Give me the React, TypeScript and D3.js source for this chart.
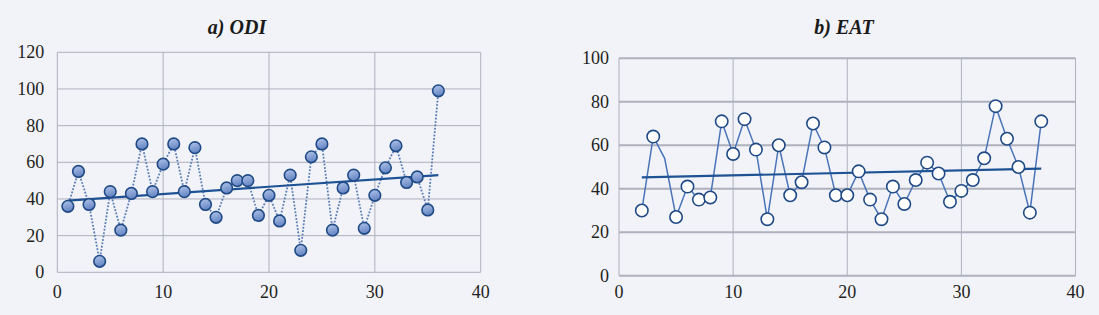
import React from "react";
import * as d3 from "d3";

const odiX = d3.range(1, 37);
const odiValues = [36, 55, 37, 6, 44, 23, 43, 70, 44, 59, 70, 44, 68, 37, 30, 46, 50, 50, 31, 42, 28, 53, 12, 63, 70, 23, 46, 53, 24, 42, 57, 69, 49, 52, 34, 99];
const eatX = d3.range(2, 38);
const eatValues = [30, 64, 54, 27, 41, 35, 36, 71, 56, 72, 58, 26, 60, 37, 43, 70, 59, 37, 37, 48, 35, 26, 41, 33, 44, 52, 47, 34, 39, 44, 54, 78, 63, 50, 29, 71];
const eatNoMarker = [4];
const odiYTicks = [0, 20, 40, 60, 80, 100, 120];
const eatYTicks = [0, 20, 40, 60, 80, 100];
const xTicks = [0, 10, 20, 30, 40];

const FONT = "'Liberation Serif', 'Times New Roman', serif";
const BG = "#f2f3f8";

function regression(xs: number[], ys: number[]) {
  const mx = d3.mean(xs)!;
  const my = d3.mean(ys)!;
  let num = 0, den = 0;
  xs.forEach((x, i) => { num += (x - mx) * (ys[i] - my); den += (x - mx) * (x - mx); });
  const b = num / den;
  const a = my - b * mx;
  return (x: number) => a + b * x;
}

type PanelProps = {
  title: string;
  xs: number[];
  ys: number[];
  yMax: number;
  yTicks: number[];
  left: number; right: number; top: number; bottom: number;
  variant: "odi" | "eat";
  labelGap: number;
  xLabelY: number;
  titleX: number;
};

function Panel(p: PanelProps) {
  const x = d3.scaleLinear().domain([0, 40]).range([p.left, p.right]);
  const y = d3.scaleLinear().domain([0, p.yMax]).range([p.bottom, p.top]);
  const pts = p.xs.map((xv, i) => [xv, p.ys[i]] as [number, number]);
  const line = d3.line<[number, number]>().x(d => x(d[0])).y(d => y(d[1]));
  const f = regression(p.xs, p.ys);
  const x0 = d3.min(p.xs)!, x1 = d3.max(p.xs)!;
  const gridColor = "#aeb0bd";
  const hWidth = p.variant === "eat" ? 2 : 1;
  const gradId = "grad-" + p.variant;
  return (
    <g>
      <defs>
        <linearGradient id={gradId} x1="0" y1="0" x2="0.3" y2="1">
          <stop offset="0%" stopColor="#b3c6ea" />
          <stop offset="100%" stopColor="#6686c4" />
        </linearGradient>
      </defs>
      <text x={p.titleX} y={34} textAnchor="middle" fontFamily={FONT} fontSize={20} fontWeight="bold" fontStyle="italic" fill="#1a1a1a">{p.title}</text>
      {xTicks.map(t => (
        <line key={"vx" + t} x1={x(t)} x2={x(t)} y1={y(0)} y2={y(p.yMax)} stroke={gridColor} strokeWidth={1} />
      ))}
      {p.yTicks.map(t => (
        <line key={"hy" + t} x1={x(0)} x2={x(40)} y1={y(t)} y2={y(t)} stroke={gridColor} strokeWidth={hWidth} />
      ))}
      {p.yTicks.map(t => (
        <text key={"ly" + t} x={x(0) - p.labelGap} y={y(t)} dy="0.33em" textAnchor="end" fontFamily={FONT} fontSize={18} fill="#231f20">{t}</text>
      ))}
      {xTicks.map(t => (
        <text key={"lx" + t} x={x(t)} y={p.xLabelY} textAnchor="middle" fontFamily={FONT} fontSize={18} fill="#231f20">{t}</text>
      ))}
      {p.variant === "odi" ? (
        <path d={line(pts)!} fill="none" stroke="#5a7db6" strokeWidth={1.8} strokeDasharray="1.8,1.6" />
      ) : (
        <path d={line(pts)!} fill="none" stroke="#4a74b8" strokeWidth={1.5} />
      )}
      <line x1={x(x0)} x2={x(x1)} y1={y(f(x0))} y2={y(f(x1))} stroke="#1d5294" strokeWidth={2.2} />
      {pts.map((d, i) => {
        if (p.variant === "eat" && eatNoMarker.includes(d[0])) return null;
        return (
          <circle key={"c" + i} cx={x(d[0])} cy={y(d[1])} r={p.variant === "odi" ? 5.8 : 6.2}
            fill={p.variant === "odi" ? `url(#${gradId})` : "#ffffff"}
            stroke="#1f4a86" strokeWidth={1.6} />
        );
      })}
    </g>
  );
}

export default function App() {
  return (
    <svg width={1099} height={315} style={{ position: "absolute", left: 0, top: 0, background: BG }}>
      <rect x={0} y={0} width={1099} height={315} fill={BG} />
      <Panel title="a) ODI" xs={odiX} ys={odiValues} yMax={120} yTicks={odiYTicks}
        left={57.3} right={480.7} top={52.3} bottom={272.3} variant="odi" labelGap={13} xLabelY={298} titleX={237} />
      <Panel title="b) EAT" xs={eatX} ys={eatValues} yMax={100} yTicks={eatYTicks}
        left={619} right={1075.5} top={58.3} bottom={275.7} variant="eat" labelGap={10} xLabelY={298} titleX={844} />
    </svg>
  );
}
